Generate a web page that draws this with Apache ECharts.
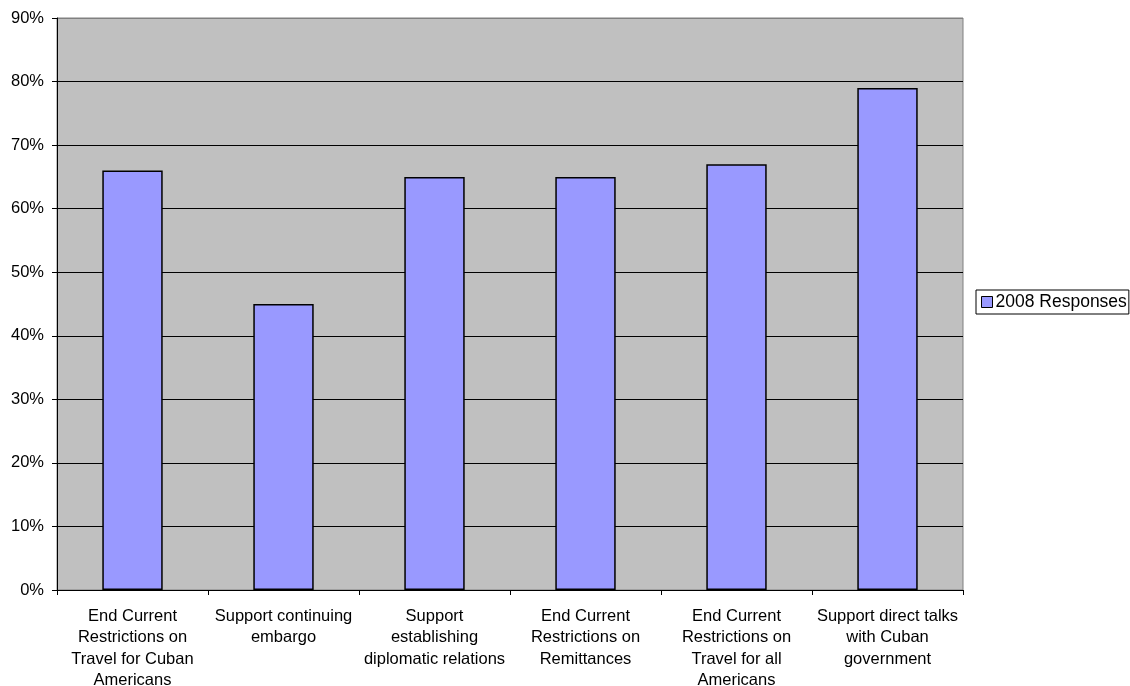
<!DOCTYPE html>
<html><head><meta charset="utf-8">
<script src="https://cdn.jsdelivr.net/npm/echarts@6/dist/echarts.min.js"></script>
<style>html,body{margin:0;padding:0;background:#fff}#c{width:1130px;height:686px}</style>
</head><body><div id="c"></div>
<script>
const categories = [
  "End Current\nRestrictions on\nTravel for Cuban\nAmericans",
  "Support continuing\nembargo",
  "Support\nestablishing\ndiplomatic relations",
  "End Current\nRestrictions on\nRemittances",
  "End Current\nRestrictions on\nTravel for all\nAmericans",
  "Support direct talks\nwith Cuban\ngovernment"
];
const seriesName = "2008 Responses";
const values = [66, 45, 65, 65, 67, 79];

const chart = echarts.init(document.getElementById('c'));
const font = 'Liberation Sans, Arial, sans-serif';
const fs = 16.5;
chart.setOption({
  animation: false,
  backgroundColor: '#fff',
  grid: {left: 57, top: 18, right: 167, bottom: 96, containLabel: false, outerBoundsMode: 'none', show: true, backgroundColor: '#c0c0c0', borderColor: '#808080', borderWidth: 1},
  legend: {
    left: 976, top: 290, orient: 'vertical',
    data: [seriesName],
    borderColor: '#000', borderWidth: 1, padding: [3, 2, 3, 5],
    itemWidth: 11, itemHeight: 11, itemGap: 0,
    icon: 'rect',
    textStyle: {fontFamily: font, fontSize: 17.5, color: '#000', padding: [0, 0, 0, -2]},
    itemStyle: {borderColor: '#000', borderWidth: 1}
  },
  xAxis: {
    type: 'category', data: categories,
    axisLine: {lineStyle: {color: '#000', width: 1}},
    axisTick: {show: true, length: 5, lineStyle: {color: '#000'}},
    axisLabel: {interval: 0, fontFamily: font, fontSize: fs, color: '#000', lineHeight: 21.3, margin: 16}
  },
  yAxis: {
    type: 'value', min: 0, max: 90, interval: 10,
    axisLine: {show: true, lineStyle: {color: '#000', width: 1}},
    axisTick: {show: true, length: 5, lineStyle: {color: '#000'}},
    splitLine: {show: true, lineStyle: {color: ['#000','#000','#000','#000','#000','#000','#000','#000','#000','#808080'], width: 1}},
    axisLabel: {formatter: '{value}%', fontFamily: font, fontSize: fs, color: '#000', margin: 13}
  },
  series: [{
    name: seriesName, type: 'bar', data: values,
    barCategoryGap: '60%',
    itemStyle: {color: '#9999ff', borderColor: '#000', borderWidth: 1.5}
  }]
});
</script></body></html>
